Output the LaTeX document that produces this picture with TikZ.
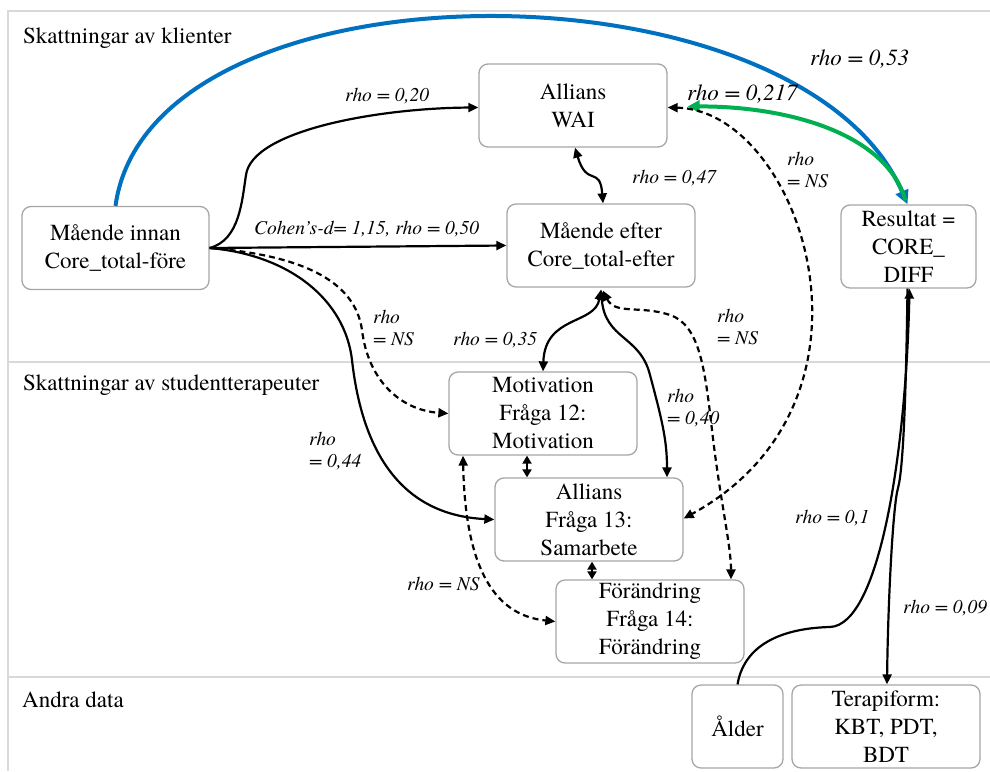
\documentclass[tikz,border=0pt]{standalone}
\usepackage{fontspec}
\IfFontExistsTF{texgyretermes-regular.otf}
  {\setmainfont{texgyretermes}[Extension=.otf,UprightFont=*-regular,ItalicFont=*-italic,BoldFont=*-bold,BoldItalicFont=*-bolditalic]}
  {}
\usetikzlibrary{arrows.meta}
\definecolor{boxgray}{HTML}{A6A6A6}
\definecolor{framegray}{HTML}{D9D9D9}
\definecolor{myblue}{HTML}{0070C0}
\definecolor{mygreen}{HTML}{00B050}
\newcommand\mynodefont{\fontsize{23}{28}\selectfont}
\newcommand\mylabfont{\fontsize{19.5}{22}\selectfont\itshape}
\newcommand\mybiglabfont{\fontsize{23}{27}\selectfont\itshape}
\newcommand\mytwoline[2]{\vtop{\hbox{#1}\hbox{#2}}}
\begin{document}
\begin{tikzpicture}[x=1pt,y=-1pt,
  >={Triangle[length=10pt,width=9pt]},
  box/.style={draw=boxgray, line width=1.3pt, rounded corners=9pt, fill=white,
    align=center, font=\mynodefont, inner sep=0pt, minimum height=83pt},
  conn/.style={line width=2.2pt, black},
  dsh/.style={conn, dash pattern=on 6pt off 4pt},
  shorttips/.style={{Triangle[length=8pt,width=9pt]}-{Triangle[length=8pt,width=9pt]}},
  lab/.style={font=\mylabfont, inner sep=0pt, anchor=base west},
  biglab/.style={font=\mybiglabfont, inner sep=0pt, anchor=base west},
  sec/.style={font=\mynodefont, inner sep=0pt, anchor=base west},
  frameline/.style={draw=framegray, line width=2pt}]
\useasboundingbox (0,0) rectangle (990,771);
% frame
\coordinate (ftl) at (8,11);
\coordinate (ftr) at (990,11);
\coordinate (fbl) at (8,771);
\coordinate (m1l) at (8,361.5);
\coordinate (m1r) at (990,361.5);
\coordinate (m2l) at (8,677);
\coordinate (m2r) at (990,677);
\draw[frameline] (fbl) -- (ftl) -- (ftr);
\draw[frameline] (m1l) -- (m1r);
\draw[frameline] (m2l) -- (m2r);
% section labels
\node[sec] (s1) at (23,43) {Skattningar av klienter};
\node[sec] (s2) at (23,390) {Skattningar av studentterapeuter};
\node[sec] (s3) at (22,707) {Andra data};
% nodes
\node[box, minimum width=188pt] (wai) at (573,105.5) {Allians\\WAI};
\node[box, minimum width=187pt] (innan) at (115.5,248) {Mående innan\\Core\_total-före};
\node[box, minimum width=188pt] (efter) at (601,245.5) {Mående efter\\Core\_total-efter};
\node[box, minimum width=135pt] (res) at (908.5,246.5) {Resultat =\\CORE\_\\DIFF};
\node[box, minimum width=188pt] (mot) at (543,413.5) {Motivation\\Fråga 12:\\Motivation};
\node[box, minimum width=188pt] (a13) at (589,519.5) {Allians\\Fråga 13:\\Samarbete};
\node[box, minimum width=188pt] (forand) at (650,621.5) {Förändring\\Fråga 14:\\Förändring};
\node[box, minimum width=91pt] (alder) at (737.5,726.5) {Ålder};
\node[box, minimum width=188pt] (terap) at (886,726.5) {Terapiform:\\KBT, PDT,\\BDT};
% blue arc
\draw[line width=4pt, myblue, -{Triangle[length=14pt,width=13pt]}]
  (innan.north) .. controls (150,-45) and (800,-45) .. ([xshift=-1pt]res.north);
% green arc
\coordinate (gend) at ([xshift=20pt,yshift=-1pt]wai.east);
\draw[line width=4pt, mygreen, -{Triangle[length=12pt,width=12pt]}]
  ([xshift=-3pt,yshift=4pt]res.north) .. controls (885,130) and (780,106) .. (gend);
% dashed WAI <-> A13
\draw[dsh,<->] ([yshift=-2pt]wai.east) .. controls (800,110) and (900,400) .. ([yshift=1pt]a13.east);
% WAI <-> efter
\draw[conn,<->] ([xshift=2pt]wai.south) .. controls (587,188) and (600,165) .. ([xshift=2pt]efter.north);
% innan -> WAI
\draw[conn,->] (innan.east) .. controls (240,240) and (242,200) .. (246,175)
  .. controls (252,130) and (380,108) .. ([yshift=-2pt]wai.west);
% innan -> efter
\draw[conn,->] (innan.east) -- (efter.west);
% innan -> mot dashed
\draw[dsh,->] (innan.east) .. controls (300,255) and (355,280) .. (362,330)
  .. controls (368,380) and (400,410) .. (mot.west);
% innan -> a13
\draw[conn,->] (innan.east) .. controls (290,255) and (345,300) .. (352,360)
  .. controls (362,450) and (400,515) .. (a13.west);
% efter <-> mot
\draw[conn,<->] ([yshift=-2pt]efter.south) .. controls (595,325) and (545,315) .. (mot.north);
% efter <-> a13
\draw[conn,<->] ([yshift=-2pt]efter.south) .. controls (605,340) and (640,335) .. (650,375)
  .. controls (662,420) and (667,440) .. ([xshift=78pt]a13.north);
% efter <-> forand dashed
\draw[dsh,<->] ([xshift=2pt,yshift=-3pt]efter.south) .. controls (615,315) and (640,305) .. (670,315)
  .. controls (700,325) and (705,370) .. (712,430)
  .. controls (720,500) and (731,545) .. ([xshift=81pt]forand.north);
% mot <-> a13
\draw[conn,shorttips] ([xshift=-16pt]mot.south) -- ([xshift=-62pt]a13.north);
% a13 <-> forand
\draw[conn,shorttips] ([xshift=3pt]a13.south) -- ([xshift=-58pt]forand.north);
% mot <-> forand dashed
\draw[dsh,<->] ([xshift=-80pt]mot.south) .. controls (465,560) and (490,615) .. (forand.west);
% alder -> res
\draw[conn,->] (alder.north) .. controls (745,640) and (790,628) .. (830,627)
  .. controls (880,625) and (906,450) .. ([xshift=1pt]res.south);
% res -> terap
\draw[conn,->] ([xshift=-1pt]res.south) .. controls (906,400) and (903,470) .. (898,488)
  .. controls (893,505) and (888,600) .. ([xshift=1pt]terap.north);
% labels
\node[lab] (l1) at (345,101) {rho = 0,20};
\node[lab] (l2) at (254,234) {Cohen’s-d= 1,15, rho = 0,50};
\node[biglab] (l3) at (810,65) {rho = 0,53};
\node[biglab] (l4) at (687,100) {rho = 0,217};
\node[lab] (l5) at (632,183) {rho = 0,47};
\node[lab] (l6) at (787,165) {\mytwoline{rho}{= NS}};
\node[lab] (l7) at (373,323) {\mytwoline{rho}{= NS}};
\node[lab] (l8) at (453,345) {rho = 0,35};
\node[lab] (l9) at (717,322) {\mytwoline{rho}{= NS}};
\node[lab] (l10) at (309,445) {\mytwoline{rho}{= 0,44}};
\node[lab] (l11) at (667,402) {\mytwoline{rho}{= 0,40}};
\node[lab] (l12) at (407,590) {rho = NS};
\node[lab] (l13) at (795,523) {rho = 0,1};
\node[lab] (l14) at (903,613) {rho = 0,09};
\end{tikzpicture}
\end{document}
